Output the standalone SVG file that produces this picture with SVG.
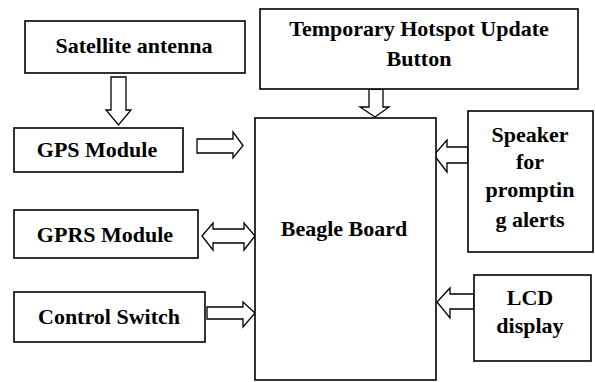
<svg xmlns="http://www.w3.org/2000/svg" width="595" height="382" viewBox="0 0 595 382">
<style>
.box{fill:#fff;stroke:#000;stroke-width:1.6}
.arr{fill:#fff;stroke:#000;stroke-width:1.3;stroke-linejoin:miter}
.t{font-family:"Liberation Serif","Times New Roman",serif;font-weight:bold;font-size:22px;fill:#000;text-anchor:middle}
</style>
<rect width="595" height="382" fill="#fff"/>
<g id="connectors">
<polygon class="arr" points="111,77 126,77 126,110 131,110 118.5,125 106,110 111,110"/>
<polygon class="arr" points="197,139 233,139 233,132 243,145.5 233,158 233,153 197,153"/>
<polygon class="arr" points="369,89 383,89 383,107 389,107 375,117 360,107 369,107"/>
<polygon class="arr" points="468,147 447,147 447,140 434,155 447,172 447,163 468,163"/>
<polygon class="arr" points="202,236 213,223 213,229 244,229 244,223 255,236 244,250 244,243 213,243 213,250"/>
<polygon class="arr" points="207,307 243,307 243,302 255,313 243,327 243,319 207,319"/>
<polygon class="arr" points="474,294 450,294 450,288 437,302 450,318 450,309 474,309"/>
</g>
<g id="satellite">
<rect class="box" x="25" y="21" width="220" height="52"/>
<text class="t" x="134" y="53">Satellite antenna</text>
</g>
<g id="hotspot">
<rect class="box" x="260" y="9" width="318" height="80"/>
<text class="t" x="419" y="36">Temporary Hotspot Update</text>
<text class="t" x="419" y="66">Button</text>
</g>
<g id="gps">
<rect class="box" x="14" y="128" width="169" height="44"/>
<text class="t" x="97" y="157">GPS Module</text>
</g>
<g id="gprs">
<rect class="box" x="14" y="210" width="184" height="48"/>
<text class="t" x="105" y="242">GPRS Module</text>
</g>
<g id="control">
<rect class="box" x="14" y="292" width="191" height="50"/>
<text class="t" x="109" y="324">Control Switch</text>
</g>
<g id="beagle">
<rect class="box" x="255" y="118" width="181" height="262"/>
<text class="t" x="344" y="236">Beagle Board</text>
</g>
<g id="speaker">
<rect class="box" x="468" y="111" width="125" height="141"/>
<text class="t" x="530" y="142">Speaker</text>
<text class="t" x="530" y="169">for</text>
<text class="t" x="530" y="197">promptin</text>
<text class="t" x="530" y="227">g alerts</text>
</g>
<g id="lcd">
<rect class="box" x="474" y="275" width="117" height="86"/>
<text class="t" x="530" y="305">LCD</text>
<text class="t" x="530" y="333">display</text>
</g>
</svg>
